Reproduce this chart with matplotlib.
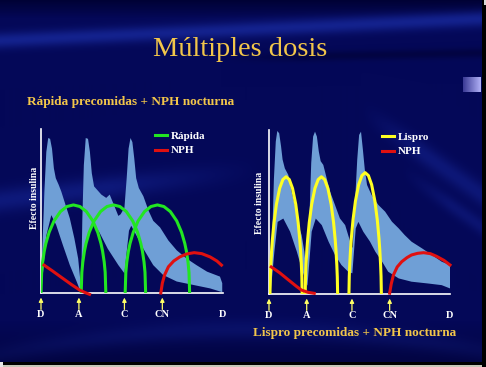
import numpy as np
import matplotlib
matplotlib.use('Agg')
import matplotlib.pyplot as plt
from matplotlib.lines import Line2D

# ---------------- data ----------------
tick_labels = ['D', 'A', 'C', 'CN', 'D']
tick_hours = [0, 5, 11, 16, 24]
arrow_hours = [0, 5, 11, 16]

# normalised arch profiles (position across arch -> fraction of peak)
arch_u = [-1, -0.98, -0.95, -0.9, -0.85, -0.75, -0.6, -0.4, -0.2, 0,
          0.2, 0.4, 0.6, 0.75, 0.85, 0.9, 0.95, 0.98, 1]
rapida_profile = [0, 0.234, 0.351, 0.474, 0.562, 0.689, 0.818, 0.925, 0.982, 1,
                  0.982, 0.925, 0.818, 0.689, 0.562, 0.474, 0.351, 0.234, 0]
lispro_profile = [0, 0.144, 0.247, 0.369, 0.463, 0.609, 0.765, 0.901, 0.976, 1,
                  0.976, 0.901, 0.765, 0.609, 0.463, 0.369, 0.247, 0.144, 0]

# (start hour, end hour, peak effect)
rapida_start = [0.0, 5.3, 11.1]
rapida_end = [8.55, 13.8, 19.6]
rapida_peak = [53.7, 53.7, 53.7]
lispro_start = [0.13, 4.8, 10.6]
lispro_end = [4.4, 9.1, 14.9]
lispro_peak = [71.5, 71.5, 74.0]

# NPH curves
nph_l1_x = [0.4, 1.5, 2.7, 4.0, 5.1, 5.8, 6.4]
nph_l1_y = [17, 13.5, 9.5, 5.2, 1.8, 0.3, -0.8]
nph_l2_x = [15.8, 16.0, 16.3, 16.8, 17.5, 18.3, 19.2, 20.2, 21.2, 22.3, 23.2, 23.8]
nph_l2_y = [0, 6, 11, 16, 19.5, 22, 23.8, 24.6, 24, 22, 19.5, 17]
nph_r1_x = [0.3, 1.4, 2.6, 3.6, 4.3, 5.2, 6.0]
nph_r1_y = [16.5, 13, 8.5, 4.8, 2.4, 1.0, 0.4]
nph_r2_x = [16.0, 16.2, 16.5, 17.0, 17.6, 18.3, 18.9, 19.7, 20.5, 21.4, 22.2, 23.2, 24.0]
nph_r2_y = [0.5, 6, 11.6, 16.5, 19.7, 22.2, 23.8, 24.8, 25.2, 24.6, 23, 20.5, 17.7]

# glucose-variability band (upper / lower edges)
band_l_up_x = [0, 0.2, 0.45, 0.7, 0.95, 1.2, 1.45, 1.7, 1.95, 2.33, 2.68, 3.1, 3.8, 4.4, 4.9, 5.2,
               5.3, 5.45, 5.65, 5.9, 6.2, 6.45, 6.7, 7.0, 7.96, 8.6, 9.06, 9.5, 10.2, 10.5, 11.0,
               11.3, 11.55, 11.8, 12.05, 12.3, 12.55, 12.9, 13.5, 14.2, 14.8, 15.7, 16.8, 17.9,
               19.2, 20.5, 21.9, 23.6, 23.9]
band_l_up_y = [2, 30, 62, 86, 94.5, 94, 88, 76, 70, 66, 61.8, 55.7, 45.5, 33.3, 21, 7,
               5.5, 45, 78, 94.5, 94, 86, 73, 65, 60, 58, 60, 55, 47, 48, 52,
               70, 88, 94.5, 92, 82, 70, 64, 59, 50, 44, 40, 32, 26,
               21, 17, 13, 10, 6]
band_l_lo_x = [0, 0.13, 0.7, 1.36, 2.0, 2.9, 3.8, 4.7, 5.2,
               5.3, 5.7, 6.2, 6.8, 7.7, 8.8, 10.2, 11.0,
               11.3, 11.6, 11.9, 12.6, 13.5, 14.8, 16.1, 17.9, 20.1, 22.3, 23.9]
band_l_lo_y = [0.5, 5, 35, 47.5, 41.5, 29, 17, 7, 1,
               1, 25, 35, 43, 37, 27, 17, 12,
               25, 38, 41, 35, 27, 17, 11, 7, 4.9, 2.8, 0.5]

band_r_up_x = [0.13, 0.4, 0.65, 0.9, 1.1, 1.35, 1.6, 1.8, 2.1, 2.56, 3.0, 3.54, 3.9, 4.33, 4.69, 4.95,
               5.0, 5.35, 5.6, 5.85, 6.1, 6.35, 6.6, 6.85, 7.2, 7.65, 8.1, 8.75, 9.4, 10.1, 10.5, 10.9,
               11.1, 11.4, 11.7, 11.95, 12.2, 12.45, 12.7, 13.0, 13.6, 14.5, 15.4, 16.3, 17.2, 18.0,
               18.9, 20.3, 21.6, 22.9, 24.0]
band_r_up_y = [3.4, 30, 70, 93, 99.4, 98, 90, 82, 76.6, 72.6, 62.4, 52.2, 42, 35.9, 25.7, 13.4,
               7.2, 45, 80, 96, 99, 96, 87, 81, 78.7, 70.5, 62.4, 54.3, 46.1, 42, 35.9, 29.9,
               28, 55, 82, 97, 99, 88, 76, 66.5, 60.4, 54.3, 50.2, 44.1, 40, 35.9,
               31.9, 27.8, 23.8, 19.7, 17.7]
band_r_lo_x = [0.13, 0.27, 0.71, 1.15, 1.9, 2.8, 3.7, 4.33, 4.9,
               5.1, 5.66, 6.2, 7.0, 7.9, 8.75, 9.6, 10.5, 11.05,
               11.5, 11.85, 12.5, 13.4, 14.1, 15.0, 15.8, 17.2, 18.9, 21.1, 22.9, 24.0]
band_r_lo_y = [2, 3.4, 25.7, 44, 46, 38, 25.7, 15.6, 7.5,
               5, 38, 46, 42, 31.9, 23.8, 17.7, 13.6, 12.6,
               40, 44, 38, 31.9, 25.8, 19.7, 13.6, 9.5, 7.5, 6.4, 5.4, 3.4]

# ---------------- styling ----------------
W, H = 486, 367
fig = plt.figure(figsize=(W / 100, H / 100), dpi=100)

# slide background
bg = fig.add_axes([0, 0, 1, 1])
bg.set_axis_off()
yy, xx = np.mgrid[0:H, 0:W].astype(float)
img = np.zeros((H, W, 3))
base = np.array([4, 8, 88]) / 255.0
img[:] = base
dark = np.array([0, 0, 45]) / 255.0
light = np.array([22, 38, 150]) / 255.0


def blend(mask, col):
    global img
    m = mask[..., None]
    img = img * (1 - m) + col * m


def ramp(v, lo, hi):
    return np.clip((v - lo) / (hi - lo), 0, 1)


blend(np.clip((18 - yy) / 18, 0, 1) * 0.8, dark)
blend(np.exp(-((yy - (40 - 0.045 * xx)) / 8.0) ** 2) * 0.85, light)
blend(np.exp(-((yy - (62 - 0.02 * xx)) / 5.0) ** 2) * 0.5 * ramp(xx, 220, 300), dark)
blend(np.exp(-((yy - (200 - 0.12 * xx)) / 12.0) ** 2) * 0.55 * np.clip((260 - xx) / 150, 0, 1), light)
blend(np.exp(-((yy - (0.7 * (xx - 360) + 110)) / 12.0) ** 2) * 0.5 * ramp(xx, 360, 420), light)
blend(np.exp(-((yy - (0.7 * (xx - 400) + 170)) / 9.0) ** 2) * 0.4 * ramp(xx, 400, 450), light)
blend(np.exp(-((yy - (330 + 0.0004 * (xx - 250) ** 2)) / 10.0) ** 2) * 0.35, light)
blend(np.clip((yy - 320) / 40, 0, 1) * 0.5, dark)
img[362:, :] = 0.0
img[365:, :] = np.array([0.78, 0.78, 0.72])
img[362:, 0:3] = 0.9
img[:, 481:] = 0.0
img[0:5, 483:] = 0.85
g = np.linspace(0, 1, 18)
for i, t in enumerate(g):
    img[77:92, 462 + i] = np.array([60, 60, 150]) / 255 * (1 - t) + np.array([175, 175, 245]) / 255 * t
bg.imshow(img, extent=[0, 1, 0, 1], aspect='auto', zorder=0)
bg.set_xlim(0, 1)
bg.set_ylim(0, 1)

serif = ['Liberation Serif', 'DejaVu Serif']
gold = '#f2c64a'
fig.text(0.494, 1 - 50 / H, 'Múltiples dosis', ha='center', va='center',
         family=serif, size=20.5, color=gold)
fig.text(27 / W, 1 - 102 / H, 'Rápida precomidas + NPH nocturna', ha='left', va='center',
         family=serif, size=9.5, weight='bold', color=gold)
fig.text(355 / W, 1 - 333 / H, 'Lispro precomidas + NPH nocturna', ha='center', va='center',
         family=serif, size=9.5, weight='bold', color=gold)

band_color = '#6f9fd6'
green = '#22e622'
yellow = '#ffff22'
red = '#e01010'


def setup(ax, ylab_xy):
    ax.set_facecolor('none')
    ax.set_xlim(0, 24)
    ax.set_ylim(0, 100)
    for s in ['top', 'right']:
        ax.spines[s].set_visible(False)
    for s in ['left', 'bottom']:
        ax.spines[s].set_color('white')
        ax.spines[s].set_linewidth(1.2)
        ax.spines[s].set_zorder(2)
    ax.set_yticks([])
    ax.set_xticks(tick_hours)
    ax.set_xticklabels(tick_labels, family=serif, weight='bold', size=7.5, color='white')
    ax.tick_params(axis='x', length=0, pad=12.5)
    ax.set_ylabel('Efecto insulina', family=serif, weight='bold', size=7, color='white')
    ax.yaxis.set_label_coords(*ylab_xy)
    tr = ax.get_xaxis_transform()
    for h in arrow_hours:
        ax.annotate('', xy=(h, -0.028), xytext=(h, -0.1), xycoords=tr, textcoords=tr,
                    arrowprops=dict(arrowstyle='-|>', color='#ffff66', lw=0.9,
                                    mutation_scale=6, shrinkA=0, shrinkB=0),
                    annotation_clip=False)


def arches(ax, starts, ends, peaks, profile, color, lw):
    u = np.array(arch_u)
    p = np.array(profile)
    for s, e, pk in zip(starts, ends, peaks):
        c = (s + e) / 2
        hw = (e - s) / 2
        ax.plot(c + u * hw, p * pk, color=color, lw=lw, zorder=3,
                solid_capstyle='butt', solid_joinstyle='round')


def band(ax, ux, uy, lx, ly):
    px = list(ux) + list(lx)[::-1]
    py = list(uy) + list(ly)[::-1]
    ax.fill(px, py, color=band_color, lw=0, zorder=1)


# left panel
axL = fig.add_axes([41 / W, 74 / H, 182 / W, 164 / H])
setup(axL, (-0.012, 0.58))
band(axL, band_l_up_x, band_l_up_y, band_l_lo_x, band_l_lo_y)
arches(axL, rapida_start, rapida_end, rapida_peak, rapida_profile, green, 2.2)
axL.plot(nph_l1_x, nph_l1_y, color=red, lw=2.2, zorder=3, clip_on=False)
axL.plot(nph_l2_x, nph_l2_y, color=red, lw=2.2, zorder=3, clip_on=False)
legL = axL.legend(handles=[Line2D([], [], color=green, lw=2.2), Line2D([], [], color=red, lw=2.2)],
                  labels=['Rápida', 'NPH'], loc='upper left', bbox_to_anchor=(0.625, 0.985),
                  frameon=False, handlelength=1.1, handletextpad=0.35, labelspacing=0.4,
                  borderaxespad=0, borderpad=0,
                  prop=dict(family=serif, weight='bold', size=8))
for t in legL.get_texts():
    t.set_color('white')

# right panel
axR = fig.add_axes([269 / W, 73 / H, 181 / W, 164 / H])
setup(axR, (-0.028, 0.555))
band(axR, band_r_up_x, band_r_up_y, band_r_lo_x, band_r_lo_y)
arches(axR, lispro_start, lispro_end, lispro_peak, lispro_profile, yellow, 2.2)
axR.plot(nph_r1_x, nph_r1_y, color=red, lw=2.2, zorder=3, clip_on=False)
axR.plot(nph_r2_x, nph_r2_y, color=red, lw=2.2, zorder=3, clip_on=False)
legR = axR.legend(handles=[Line2D([], [], color=yellow, lw=2.2), Line2D([], [], color=red, lw=2.2)],
                  labels=['Lispro', 'NPH'], loc='upper left', bbox_to_anchor=(0.625, 0.985),
                  frameon=False, handlelength=1.1, handletextpad=0.35, labelspacing=0.4,
                  borderaxespad=0, borderpad=0,
                  prop=dict(family=serif, weight='bold', size=8))
for t in legR.get_texts():
    t.set_color('white')

fig.savefig('out.png', dpi=100)
